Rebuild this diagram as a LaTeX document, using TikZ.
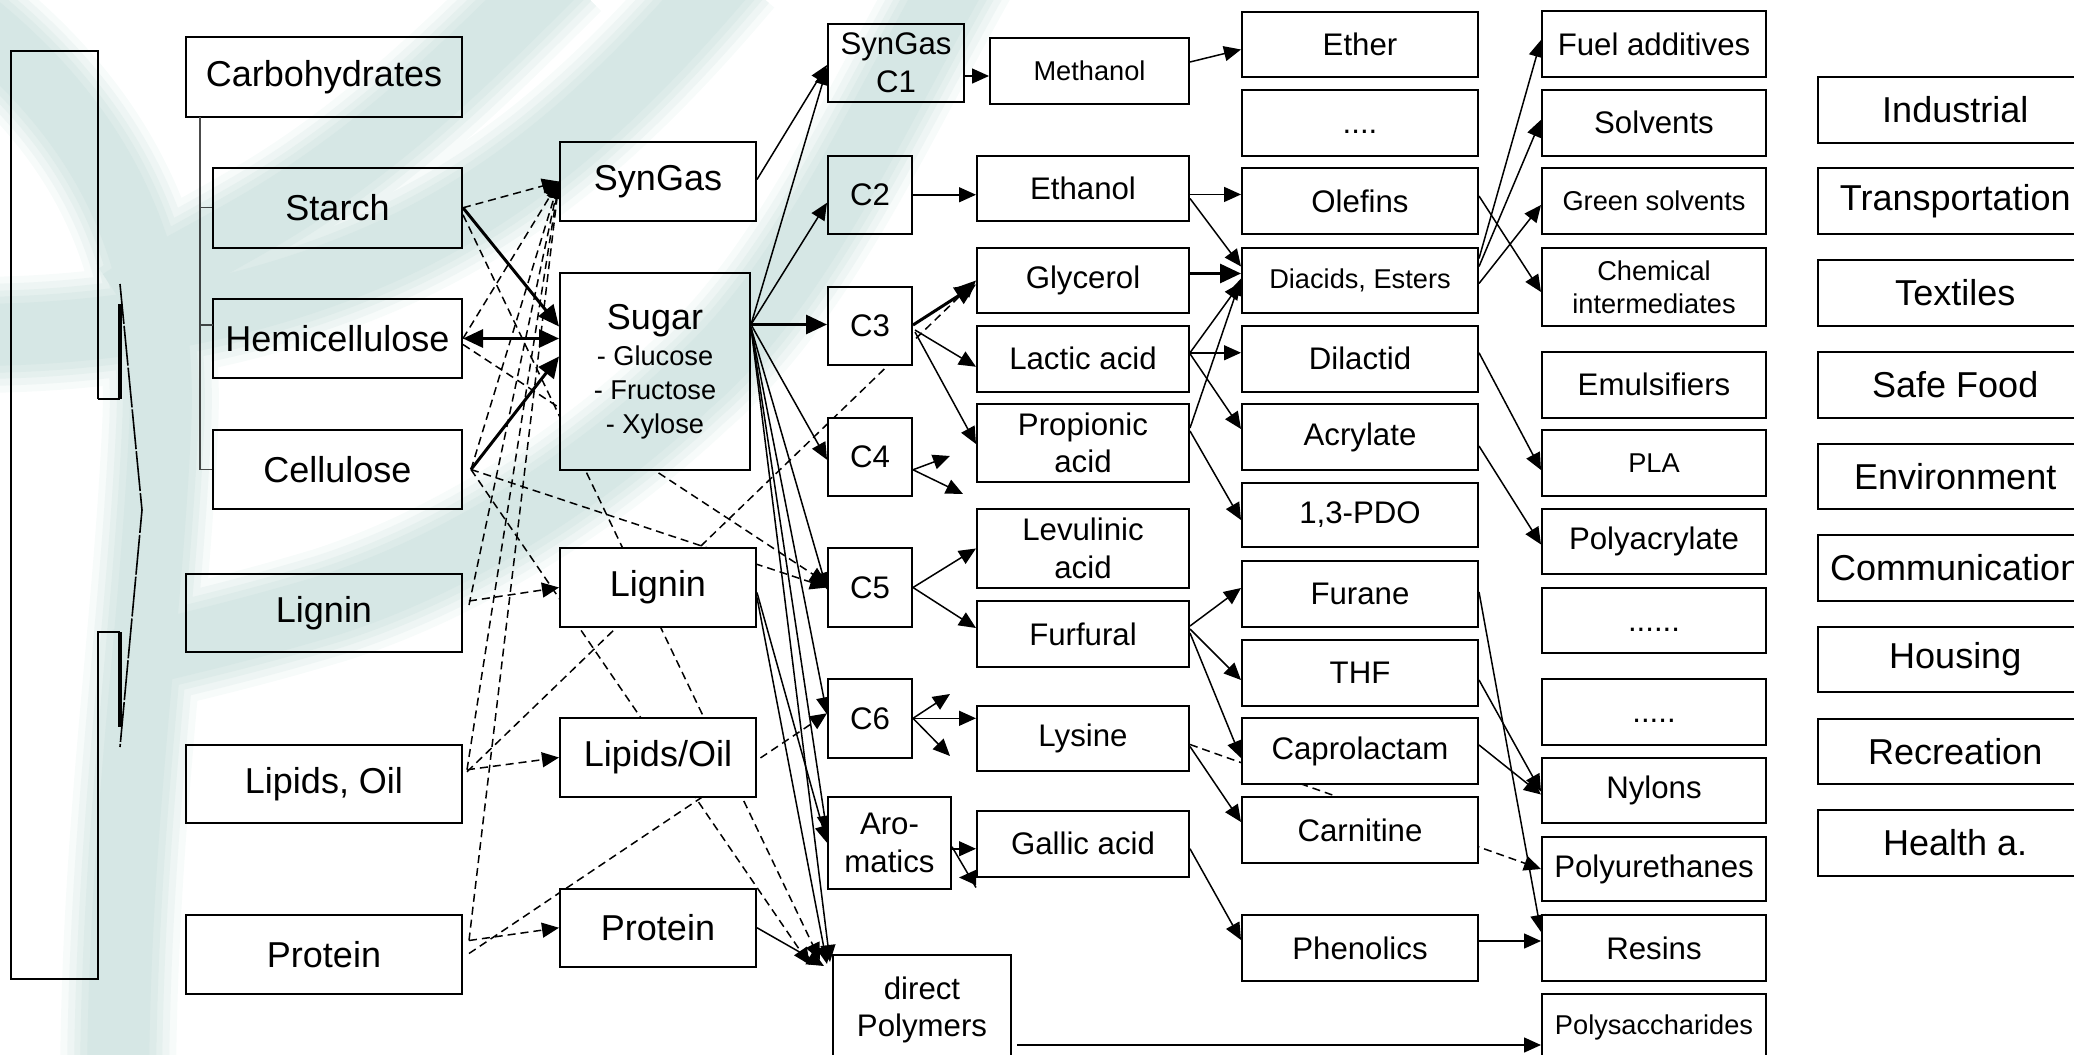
\documentclass[tikz,border=0pt]{standalone}
\usepackage{fontspec}
\setmainfont{Liberation Sans}
\usetikzlibrary{arrows.meta,calc}
\pgfdeclarelayer{edges}
\pgfdeclarelayer{wash}
\pgfsetlayers{edges,main,wash}
\definecolor{wmA}{RGB}{247,251,250}
\definecolor{wmB}{RGB}{238,245,244}
\definecolor{wmC}{RGB}{229,240,238}
\definecolor{wmD}{RGB}{221,235,233}
\definecolor{wmE}{RGB}{214,231,229}

\tikzset{
  box/.style={draw, line width=1pt, fill=white, inner sep=0pt, align=center},
  big/.style={font=\fontsize{18}{21}\selectfont},
  mid/.style={font=\fontsize{15.6}{18.8}\selectfont},
  sml/.style={font=\fontsize{13.6}{16.4}\selectfont},
  link/.style={line width=0.75pt, -{Triangle[length=8.5pt,width=7.5pt]}},
  strong/.style={line width=1.5pt, -{Triangle[length=10.5pt,width=9.5pt]}},
  strongboth/.style={line width=1.5pt, {Triangle[length=10pt,width=9pt]}-{Triangle[length=10pt,width=9pt]}},
  dlink/.style={link, dash pattern=on 4pt off 2.5pt},
  tree/.style={line width=0.7pt, black!70},
}

% box from corner (x1,y1) to (x2,y2) in pixel units
\newcommand\Bx[7][]{\node[box,#1,minimum width={(#4-#2)*0.5pt},minimum height={(#5-#3)*0.5pt}] (#6) at ({(#2+#4)/2},{(#3+#5)/2}) {#7};}

% the four strokes of the swirl, in one colour and width
\newcommand\swirlset[2]{%
  \draw[#1, line width=#2*0.5pt] (-40,10) .. controls (90,110) and (170,240) .. (160,430) .. controls (150,640) and (120,820) .. (118,1080);
  \draw[#1, line width=#2*0.5pt] (730,-30) .. controls (620,100) and (520,190) .. (390,250) .. controls (280,300) and (140,335) .. (-30,335);
  \draw[#1, line width=#2*0.5pt] (560,-30) .. controls (470,60) and (380,150) .. (260,220) .. controls (200,255) and (150,280) .. (120,300);
  \draw[#1, line width=#2*0.5pt] (960,-30) .. controls (870,130) and (800,290) .. (690,385) .. controls (600,470) and (470,560) .. (330,605) .. controls (240,632) and (180,645) .. (120,660);
}

\begin{document}
\begin{tikzpicture}[x=0.5pt,y=-0.5pt]
\useasboundingbox (0,0) rectangle (2074,1055);

% ---- brace on the left
\draw[line width=0.8pt] (98,399) -- (98,51) -- (10.7,51) -- (10.7,979) -- (98,979) -- (98,632) -- (120,632);
\draw[line width=0.8pt] (98,399) -- (120,399);
\draw[line width=1.8pt] (120,399) -- (120,304);
\draw[line width=1.8pt] (120,632) -- (120,727);
\draw[line width=0.8pt, dash pattern=on 20pt off 1pt] (120,284) -- (142,510) -- (120,747);

% ---- feedstocks
\Bx[big]{186}{37}{462}{117}{carb}{Carbohydrates}
\Bx[big]{213}{168}{462}{247.5}{starch}{Starch}
\Bx[big]{213}{299}{462}{378}{hemi}{Hemicellulose}
\Bx[big]{213}{430}{462}{509}{cell}{Cellulose}
\Bx[big]{186}{574}{462}{652}{ligA}{Lignin}
\Bx[big]{186}{744.5}{462}{823}{lipA}{Lipids, Oil}
\Bx[big]{186}{915}{462}{994}{proA}{Protein}

\draw[tree] (200,117) |- (starch.west);
\draw[tree] (200,117) |- (cell.west);
\draw[tree] (200,325) -- (213,325);

% ---- platforms
\Bx[big]{560}{142}{756}{221}{syngas}{SynGas}
\Bx[font=\fontsize{13.6}{16.8}\selectfont]{560}{273}{750}{470}{sugar}{{\fontsize{18}{20}\selectfont Sugar}\\[1.5pt]- Glucose\\- Fructose\\- Xylose}
\Bx[big]{560}{548}{756}{627}{ligB}{Lignin}
\Bx[big]{560}{718}{756}{797}{lipB}{Lipids/Oil}
\Bx[big]{560}{888.5}{756}{967}{proB}{Protein}

% ---- building blocks
\Bx[mid]{828}{24}{964}{102}{sc1}{SynGas\\C1}
\Bx[mid]{828}{155.5}{912}{234}{c2}{C2}
\Bx[mid]{828}{287}{912}{365}{c3}{C3}
\Bx[mid]{828}{417.5}{912}{496}{c4}{C4}
\Bx[mid]{828}{548}{912}{627}{c5}{C5}
\Bx[mid]{828}{678.6}{912}{758}{c6}{C6}
\Bx[mid]{828}{797}{951}{888.5}{arom}{Aro-\\matics}
\Bx[mid]{833}{955}{1011}{1065}{dp}{direct\\Polymers}

% ---- intermediates
\Bx[sml]{990}{38}{1189}{104}{meth}{Methanol}
\Bx[mid]{977}{155.5}{1189}{221.4}{eth}{Ethanol}
\Bx[mid]{977}{248}{1189}{313}{gly}{Glycerol}
\Bx[mid]{977}{326}{1189}{391.5}{lac}{Lactic acid}
\Bx[mid]{977}{404}{1189}{482}{prop}{Propionic\\acid}
\Bx[mid]{977}{509}{1189}{588}{lev}{Levulinic\\acid}
\Bx[mid]{977}{601}{1189}{667}{furf}{Furfural}
\Bx[mid]{977}{706}{1189}{771}{lys}{Lysine}
\Bx[mid]{977}{811}{1189}{876.5}{gal}{Gallic acid}

% ---- secondary chemicals
\Bx[mid]{1242}{12}{1478}{77}{ether}{Ether}
\Bx[mid]{1242}{90}{1478}{155.5}{dotsA}{\vphantom{A}....}
\Bx[mid]{1242}{168}{1478}{234}{olef}{Olefins}
\Bx[sml]{1242}{248}{1478}{313}{diac}{Diacids, Esters}
\Bx[mid]{1242}{326}{1478}{391.5}{dilac}{Dilactid}
\Bx[mid]{1242}{404}{1478}{470}{acry}{Acrylate}
\Bx[mid]{1242}{483}{1478}{547}{pdo}{1,3-PDO}
\Bx[mid]{1242}{561}{1478}{627}{furane}{Furane}
\Bx[mid]{1242}{640}{1478}{706}{thf}{THF}
\Bx[mid]{1242}{718}{1478}{784}{capro}{Caprolactam}
\Bx[mid]{1242}{797}{1478}{863}{carn}{Carnitine}
\Bx[mid]{1242}{915}{1478}{981}{phen}{Phenolics}

% ---- products
\Bx[mid]{1542}{11}{1766}{77}{fuel}{Fuel additives}
\Bx[mid]{1542}{90}{1766}{155.5}{solv}{Solvents}
\Bx[sml]{1542}{168}{1766}{234}{gsolv}{Green solvents}
\Bx[sml]{1542}{248}{1766}{326}{chem}{Chemical\\intermediates}
\Bx[mid]{1542}{352}{1766}{417.5}{emul}{Emulsifiers}
\Bx[sml]{1542}{430}{1766}{496}{pla}{PLA}
\Bx[mid]{1542}{509}{1766}{574}{pacr}{Polyacrylate}
\Bx[mid]{1542}{588}{1766}{653}{dotsB}{\vphantom{A}......}
\Bx[mid]{1542}{679}{1766}{745}{dotsC}{\vphantom{A}.....}
\Bx[mid]{1542}{758}{1766}{823}{nyl}{Nylons}
\Bx[mid]{1542}{837}{1766}{901}{pur}{Polyurethanes}
\Bx[mid]{1542}{915}{1766}{981}{res}{Resins}
\Bx[sml]{1542}{994}{1766}{1060}{psac}{Polysaccharides}

% ---- markets
\Bx[big]{1817.5}{77}{2093}{143}{ind}{Industrial}
\Bx[big]{1817.5}{168}{2093}{234}{trans}{Transportation}
\Bx[big]{1817.5}{260}{2093}{326}{texl}{Textiles}
\Bx[big]{1817.5}{352}{2093}{417.5}{food}{Safe Food}
\Bx[big]{1817.5}{443.5}{2093}{509}{env}{Environment}
\Bx[big]{1817.5}{535}{2093}{601}{comm}{Communication}
\Bx[big]{1817.5}{627}{2093}{692}{hous}{Housing}
\Bx[big]{1817.5}{719}{2093}{784}{recr}{Recreation}
\Bx[big]{1817.5}{810}{2093}{875.5}{hlth}{Health a.}

% free ends and horizontal start points
\coordinate (c4up) at (950,456);
\coordinate (c4dn) at (963,494);
\coordinate (c6up) at (950,694);
\coordinate (c6dn) at (950,756);
\coordinate (aromR) at ($(arom.east)+(0,6)$);
\coordinate (ethR) at ($(eth.east)+(0,6)$);
\coordinate (lacR) at ($(lac.east)+(0,-6)$);
\coordinate (phenR) at ($(phen.east)+(0,-7)$);
\coordinate (dpR) at ($(dp.east)+(5,35)$);

\begin{pgfonlayer}{edges}
% feedstocks to platforms
\draw[dlink] (starch.east) -- (syngas.west);
\draw[strong] (starch.east) -- ($(sugar.west)+(0,-45)$);
\draw[dlink] ($(starch.east)+(0,7)$) -- ($(dp.north west)+(-12,6)$);
\draw[strongboth] (hemi.east) -- ($(sugar.west)+(0,-33)$);
\draw[dlink] (hemi.east) -- (syngas.west);
\draw[dlink] ($(hemi.east)+(0,6)$) -- ($(c5.west)+(0,-4)$);
\draw[strong] ($(cell.east)+(8,0)$) -- ($(sugar.west)+(0,-15)$);
\draw[dlink] ($(cell.east)+(8,0)$) -- (syngas.west);
\draw[dlink] ($(cell.east)+(8,0)$) -- (c5.west);
\draw[dlink] ($(cell.east)+(8,0)$) -- ($(dp.north west)+(-22,11)$);
\draw[dlink] ($(ligA.east)+(6,-12)$) -- (ligB.west);
\draw[dlink] ($(ligA.east)+(6,-8)$) -- (syngas.west);
\draw[dlink] ($(lipA.east)+(4,-14)$) -- (lipB.west);
\draw[dlink] ($(lipA.east)+(4,-14)$) -- (syngas.west);
\draw[dlink] ($(lipA.east)+(4,-12)$) -- (gly.west);
\draw[dlink] ($(proA.east)+(6,-14)$) -- (proB.west);
\draw[dlink] ($(proA.east)+(6,-14)$) -- (syngas.west);
\draw[dlink] ($(proA.east)+(6,-1)$) -- ($(c6.west)+(0,-5)$);

% platforms to building blocks
\draw[link] ($(syngas.east)+(0,-2)$) -- ($(sc1.west)+(0,2)$);
\draw[link] ($(sugar.east)+(0,-47)$) -- ($(sc1.west)+(0,5)$);
\draw[link] ($(sugar.east)+(0,-47)$) -- ($(c2.west)+(0,8)$);
\draw[strong] ($(sugar.east)+(0,-47)$) -- ($(c3.west)+(0,-1.5)$);
\draw[link] ($(sugar.east)+(0,-47)$) -- ($(c4.west)+(0,3)$);
\draw[link] ($(sugar.east)+(0,-44)$) -- ($(c5.west)+(0,2)$);
\draw[link] ($(sugar.east)+(0,-44)$) -- ($(c6.west)+(0,-4)$);
\draw[link] ($(sugar.east)+(0,-44)$) -- ($(arom.west)+(0,-10)$);
\draw[link] ($(sugar.east)+(0,-44)$) -- ($(dp.north west)+(-2,8)$);
\draw[link] ($(ligB.east)+(0,5)$) -- (arom.west);
\draw[link] ($(ligB.east)+(0,10)$) -- ($(dp.north west)+(-5,10)$);
\draw[link] (proB.east) -- ($(dp.north west)+(-8,12)$);

% building blocks to intermediates
\draw[link] ($(sc1.east)+(0,13)$) -- ($(meth.west)+(0,5)$);
\draw[link] (c2.east) -- (c2.east -| eth.west);
\draw[strong] ($(c3.east)+(0,-1)$) -- ($(gly.west)+(0,4)$);
\draw[link] ($(c3.east)+(2,4)$) -- ($(lac.west)+(0,8)$);
\draw[link] ($(c3.east)+(2,6)$) -- ($(prop.west)+(0,1)$);
\draw[link] ($(c4.east)+(0,13)$) -- (c4up);
\draw[link] ($(c4.east)+(0,13)$) -- (c4dn);
\draw[link] (c5.east) -- (lev.west);
\draw[link] (c5.east) -- ($(furf.west)+(0,-6)$);
\draw[link] (c6.east) -- (c6up);
\draw[link] (c6.east) -- (c6.east -| lys.west);
\draw[link] (c6.east) -- (c6dn);
\draw[link] (aromR) -- (aromR -| gal.west);
\draw[line width=0.75pt] ($(arom.east)+(0,4)$) -- ($(gal.south west)+(0,10)$);
\draw[link] (gal.south west) -- ++(-17,0);

% intermediates to secondary chemicals
\draw[link] ($(meth.east)+(0,-9)$) -- ($(ether.west)+(0,5)$);
\draw[link] (ethR) -- (ethR -| olef.west);
\draw[link] ($(eth.east)+(0,10)$) -- ($(diac.west)+(0,-14)$);
\draw[strong] ($(gly.east)+(0,-7)$) -- ($(diac.west)+(0,-7)$);
\draw[link] (lacR) -- ($(diac.west)+(0,2)$);
\draw[link] (lacR) -- (lacR -| dilac.west);
\draw[link] ($(lac.east)+(0,-5)$) -- ($(acry.west)+(0,-8)$);
\draw[link] ($(prop.east)+(0,-15)$) -- ($(diac.west)+(0,-2)$);
\draw[link] ($(prop.east)+(0,-12)$) -- ($(pdo.west)+(0,5)$);
\draw[link] ($(furf.east)+(0,-8)$) -- ($(furane.west)+(0,-6)$);
\draw[link] ($(furf.east)+(0,-5)$) -- ($(thf.west)+(0,7)$);
\draw[link] ($(furf.east)+(0,-1)$) -- ($(capro.west)+(0,7)$);
\draw[dlink] ($(lys.east)+(0,6)$) -- (pur.west);
\draw[link] ($(lys.east)+(0,8)$) -- ($(carn.west)+(0,-8)$);
\draw[link] ($(gal.east)+(0,5)$) -- ($(phen.west)+(0,-8)$);
\draw[link] (phenR) -- (phenR -| res.west);
\draw[link] (dpR) -- (dpR -| psac.west);

% secondary chemicals to products
\draw[link] ($(diac.east)+(0,-22)$) -- ($(fuel.west)+(0,-4)$);
\draw[link] ($(diac.east)+(0,-14)$) -- ($(solv.west)+(0,-3)$);
\draw[link] ($(diac.east)+(0,3)$) -- ($(gsolv.west)+(0,4)$);
\draw[link] ($(olef.east)+(0,-5)$) -- ($(chem.west)+(0,5)$);
\draw[link] ($(dilac.east)+(0,-6)$) -- ($(pla.west)+(0,7)$);
\draw[link] ($(acry.east)+(0,9)$) -- ($(pacr.west)+(0,3)$);
\draw[link] ($(furane.east)+(0,-2)$) -- ($(res.west)+(0,-16)$);
\draw[link] ($(thf.east)+(0,7)$) -- ($(nyl.west)+(0,1)$);
\draw[link] ($(capro.east)+(0,-6)$) -- ($(nyl.west)+(0,4)$);
\end{pgfonlayer}

% ---- soft teal swirl laid over the chart (one group, multiplied)
\begin{pgfonlayer}{wash}
\begin{scope}[transparency group, blend mode=multiply]
\swirlset{wmA}{116}
\swirlset{wmB}{102}
\swirlset{wmC}{88}
\swirlset{wmD}{76}
\swirlset{wmE}{62}
\end{scope}
\end{pgfonlayer}
\end{tikzpicture}
\end{document}
